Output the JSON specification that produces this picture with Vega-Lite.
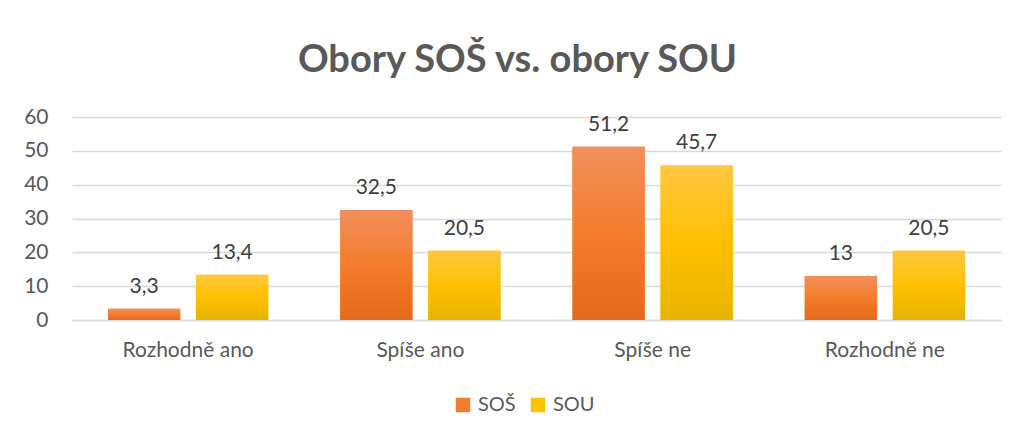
{
  "$schema": "https://vega.github.io/schema/vega-lite/v6.json",
  "width": 929,
  "height": 203,
  "autosize": {"type": "none"},
  "padding": {"left": 72, "top": 117, "right": 18, "bottom": 117},
  "background": "white",
  "config": {
    "locale": {"number": {"decimal": ",", "thousands": " ", "grouping": [3], "currency": ["", " Kč"]}},
    "view": {"stroke": null},
    "font": "Lato"
  },
  "title": {
    "text": "Obory SOŠ vs. obory SOU",
    "font": "Lato",
    "fontSize": 38,
    "fontWeight": "bold",
    "color": "#595959",
    "anchor": "middle",
    "frame": "group",
    "dx": -19,
    "offset": 26
  },
  "data": {
    "values": [
      {"kategorie": "Rozhodně ano", "obor": "SOŠ", "hodnota": 3.3},
      {"kategorie": "Rozhodně ano", "obor": "SOU", "hodnota": 13.4},
      {"kategorie": "Spíše ano", "obor": "SOŠ", "hodnota": 32.5},
      {"kategorie": "Spíše ano", "obor": "SOU", "hodnota": 20.5},
      {"kategorie": "Spíše ne", "obor": "SOŠ", "hodnota": 51.2},
      {"kategorie": "Spíše ne", "obor": "SOU", "hodnota": 45.7},
      {"kategorie": "Rozhodně ne", "obor": "SOŠ", "hodnota": 13},
      {"kategorie": "Rozhodně ne", "obor": "SOU", "hodnota": 20.5}
    ]
  },
  "encoding": {
    "x": {
      "field": "kategorie",
      "type": "nominal",
      "sort": ["Rozhodně ano", "Spíše ano", "Spíše ne", "Rozhodně ne"],
      "scale": {"paddingInner": 0.31, "paddingOuter": 0.155},
      "axis": {
        "title": null,
        "labelAngle": 0,
        "labelFont": "Lato",
        "labelFontSize": 21,
        "labelColor": "#595959",
        "labelPadding": 19,
        "ticks": false,
        "domain": true,
        "domainColor": "#D9D9D9",
        "domainWidth": 1.5,
        "grid": false
      }
    },
    "xOffset": {
      "field": "obor",
      "type": "nominal",
      "sort": ["SOŠ", "SOU"],
      "scale": {"paddingInner": 0.18, "paddingOuter": 0}
    },
    "y": {
      "field": "hodnota",
      "type": "quantitative",
      "scale": {"domain": [0, 60], "nice": false},
      "axis": {
        "title": null,
        "values": [0, 10, 20, 30, 40, 50, 60],
        "labelFont": "Lato",
        "labelFontSize": 21,
        "labelColor": "#595959",
        "labelPadding": 24,
        "ticks": false,
        "domain": false,
        "grid": true,
        "gridColor": "#D9D9D9",
        "gridWidth": 1.5
      }
    }
  },
  "layer": [
    {
      "mark": {"type": "bar"},
      "encoding": {
        "color": {
          "field": "obor",
          "type": "nominal",
          "scale": {"domain": ["SOŠ", "SOU"], "range": ["#F07C2F", "#FFC000"]},
          "legend": {
            "title": null,
            "orient": "none",
            "direction": "horizontal",
            "legendX": 381,
            "legendY": 278,
            "symbolType": "square",
            "symbolSize": 210,
            "symbolStrokeWidth": 0,
            "labelFont": "Lato",
            "labelFontSize": 20,
            "labelColor": "#595959",
            "labelOffset": 5,
            "columnPadding": 12
          }
        }
      }
    },
    {
      "transform": [{"filter": "datum.obor === 'SOŠ'"}],
      "mark": {
        "type": "bar",
        "fill": {
          "gradient": "linear",
          "x1": 0, "y1": 0, "x2": 0, "y2": 1,
          "stops": [
            {"offset": 0, "color": "#F18F5C"},
            {"offset": 0.5, "color": "#F47C2C"},
            {"offset": 1, "color": "#E5691B"}
          ]
        }
      }
    },
    {
      "transform": [{"filter": "datum.obor === 'SOU'"}],
      "mark": {
        "type": "bar",
        "fill": {
          "gradient": "linear",
          "x1": 0, "y1": 0, "x2": 0, "y2": 1,
          "stops": [
            {"offset": 0, "color": "#FFC741"},
            {"offset": 0.5, "color": "#FFC000"},
            {"offset": 1, "color": "#E7B400"}
          ]
        }
      }
    },
    {
      "mark": {
        "type": "text",
        "baseline": "alphabetic",
        "dy": -16,
        "font": "Lato",
        "fontSize": 21,
        "color": "#404040"
      },
      "encoding": {
        "text": {"field": "hodnota", "type": "quantitative", "format": "~g"}
      }
    }
  ]
}
